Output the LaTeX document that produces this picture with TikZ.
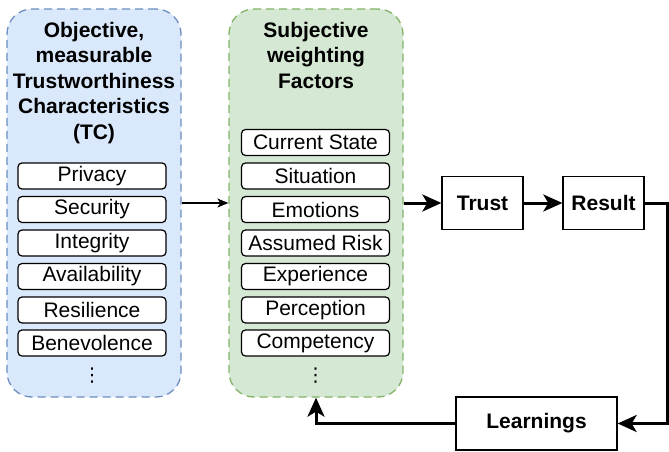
\documentclass[tikz,border=0pt]{standalone}
\usepackage{fontspec}
\setmainfont{Liberation Sans}
\newfontfamily\symbolfont{DejaVu Sans}
\usepackage{xcolor}
\usepackage{tikz}
\usetikzlibrary{arrows.meta}
\definecolor{tcfill}{HTML}{DAE8FC}
\definecolor{tcline}{HTML}{6C8EBF}
\definecolor{wffill}{HTML}{D5E8D4}
\definecolor{wfline}{HTML}{82B366}
\tikzset{factor group/.style={draw,dash pattern=on 8pt off 5pt,line width=1.3pt,
    rounded corners=25pt,minimum width=174,minimum height=388},
  factor/.style={draw,fill=white,line width=1.2pt,rounded corners=4pt,
    minimum width=148,minimum height=26,inner sep=0pt,
    font=\fontsize{21}{24}\selectfont},
  stage/.style={draw,fill=white,line width=1.3pt,minimum width=81,
    minimum height=53,inner sep=0pt,font=\bfseries\fontsize{21}{24}\selectfont},
  heading/.style={anchor=north,align=center,inner sep=0pt,
    font=\bfseries\fontsize{21}{25.5}\selectfont},
  more/.style={inner sep=0pt,font=\symbolfont\fontsize{19}{19}\selectfont},
  thin arrow/.style={-{Stealth[length=11pt,width=9pt,inset=3pt]},line width=1.1pt},
  thick arrow/.style={-{Stealth[length=19pt,width=17pt,inset=5pt]},line width=3pt}}

\begin{document}
\begin{tikzpicture}[x=1pt,y=-1pt]
  \useasboundingbox (0,0) rectangle (669,452);
  % the two groups
  \node[factor group,fill=tcfill,draw=tcline] (TC) at (94,203) {};
  \node[factor group,fill=wffill,draw=wfline] (WF) at (316,203) {};
  \node[heading] (TCtitle) at (94,22) {Objective,\\measurable\\Trustworthiness\\Characteristics\\(TC)};
  \node[heading] (WFtitle) at (316,22) {Subjective\\weighting\\Factors};
  % objective characteristics
  \node[factor] (Privacy) at (92,176) {Privacy};
  \node[factor] (Security) at (92,209.5) {Security};
  \node[factor] (Integrity) at (92,243) {Integrity};
  \node[factor] (Availability) at (92,276.5) {Availability};
  \node[factor] (Resilience) at (92,310) {Resilience};
  \node[factor] (Benevolence) at (92,343) {Benevolence};
  \node[more] (TCmore) at (92,376) {⋮};
  % subjective factors
  \node[factor] (State) at (315.5,142.5) {Current State};
  \node[factor] (Situation) at (315.5,176) {Situation};
  \node[factor] (Emotions) at (315.5,209.5) {Emotions};
  \node[factor] (Risk) at (315.5,243) {Assumed Risk};
  \node[factor] (Experience) at (315.5,276.5) {Experience};
  \node[factor] (Perception) at (315.5,310) {Perception};
  \node[factor] (Competency) at (315.5,343) {Competency};
  \node[more] (WFmore) at (315.5,376) {⋮};
  % outcome
  \node[stage] (Trust) at (482.5,203) {Trust};
  \node[stage] (Result) at (603.5,203) {Result};
  \node[stage,minimum width=161] (Learnings) at (536.5,423.5) {Learnings};
  \draw[thin arrow] (TC) -- (WF);
  \draw[thick arrow] (WF) -- (Trust);
  \draw[thick arrow] (Trust) -- (Result);
  \draw[thick arrow] (Result.east) -- ++(23,0) |- (Learnings.east);
  \draw[thick arrow] (Learnings.west) -| (WF.south);
\end{tikzpicture}
\end{document}
